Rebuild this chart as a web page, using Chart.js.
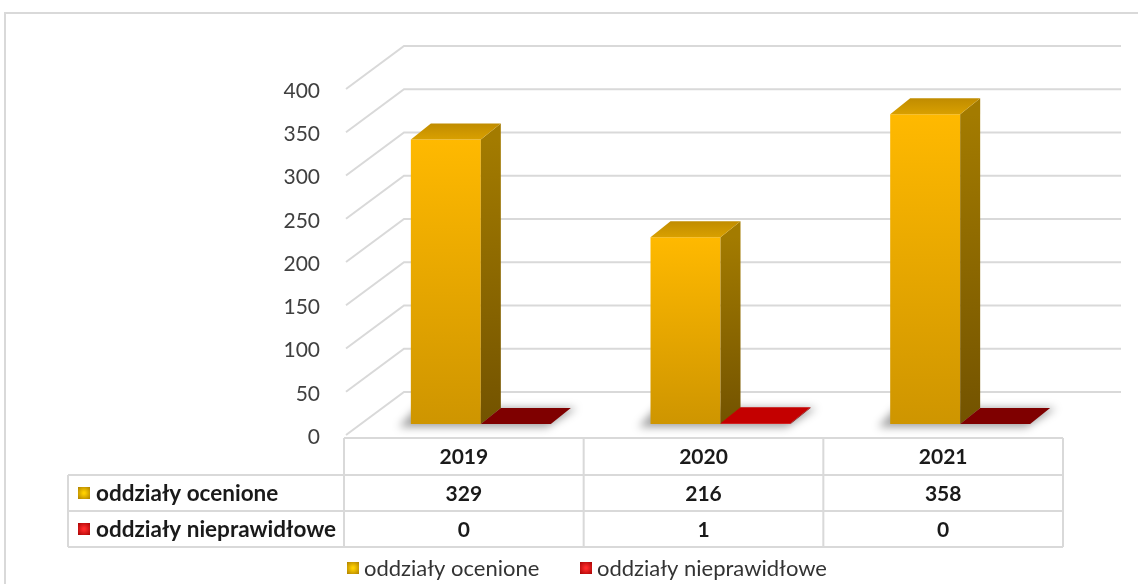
<!DOCTYPE html>
<html><head><meta charset="utf-8">
<script src="https://cdn.jsdelivr.net/npm/chart.js@4.4.1/dist/chart.umd.min.js"></script>
<style>html,body{margin:0;padding:0;background:#fff;overflow:hidden}#wrap{width:1138px;height:584px;position:relative}</style>
</head><body><div id="wrap"><canvas id="c" width="1138" height="584"></canvas></div>
<script>
const categories = ['2019', '2020', '2021'];
const seriesNames = ['oddziały ocenione', 'oddziały nieprawidłowe'];
const assessed = [329, 216, 358];
const irregular = [0, 1, 0];
const yMin = 0, yMax = 400, yStep = 50;

const FONT = 'Lato, "Open Sans", sans-serif';
const DEPTH_X = 20, DEPTH_Y = -16;      // bar depth
const PLANE_FRONT = [-15, 11];          // bar plane -> floor front
const PLANE_BACK = [43, -32];           // bar plane -> back wall
const GRID = '#d9d9d9';

function goldFront(chart, v) {
  const ys = chart.scales.y;
  if (!ys || !chart.chartArea) return '#E0A400';
  const top = ys.getPixelForValue(v), base = ys.getPixelForValue(0);
  const g = chart.ctx.createLinearGradient(0, top, 0, base + 1);
  g.addColorStop(0, '#FFB900');
  g.addColorStop(1, '#CE9500');
  return g;
}

function poly(ctx, pts, fill) {
  ctx.beginPath();
  ctx.moveTo(pts[0][0], pts[0][1]);
  for (let i = 1; i < pts.length; i++) ctx.lineTo(pts[i][0], pts[i][1]);
  ctx.closePath();
  ctx.fillStyle = fill;
  ctx.fill();
}

function marker(ctx, x, y, s, light, dark) {
  const g = ctx.createRadialGradient(x + s / 2, y + s / 2, 1, x + s / 2, y + s / 2, s * 0.75);
  g.addColorStop(0, light);
  g.addColorStop(1, dark);
  ctx.fillStyle = g;
  ctx.fillRect(x, y, s, s);
}

const threeD = {
  id: 'threeD',
  beforeDraw(chart) {
    const ctx = chart.ctx;
    ctx.save();
    ctx.fillStyle = '#fff';
    ctx.fillRect(0, 0, chart.width, chart.height);
    ctx.strokeStyle = '#d9d9d9';
    ctx.lineWidth = 2;
    ctx.strokeRect(5, 13, 1300, 800);
    ctx.restore();
  },
  beforeDatasetsDraw(chart) {
    const ctx = chart.ctx, ys = chart.scales.y, ca = chart.chartArea;
    ctx.save();
    ctx.strokeStyle = GRID;
    ctx.lineWidth = 2;
    for (let v = yMin; v <= yMax; v += yStep) {
      const y = ys.getPixelForValue(v);
      ctx.beginPath();
      ctx.moveTo(ca.left + PLANE_FRONT[0], y + PLANE_FRONT[1]);
      ctx.lineTo(ca.left + PLANE_BACK[0], y + PLANE_BACK[1]);
      ctx.lineTo(ca.right + PLANE_BACK[0] - 2, y + PLANE_BACK[1]);
      ctx.stroke();
    }
    // shadows
    const m0 = chart.getDatasetMeta(0), m1 = chart.getDatasetMeta(1);
    ctx.filter = 'blur(4px)';
    m0.data.forEach((el, i) => {
      const a = el.getProps(['x', 'y', 'base', 'width'], true);
      const b = m1.data[i].getProps(['x', 'y', 'base', 'width'], true);
      const gl = a.x - a.width / 2, gr = b.x + b.width / 2, base = a.base;
      poly(ctx, [[gl - 12, base + 3], [gr - 4, base + 3], [gr + DEPTH_X + 6, base + DEPTH_Y], [gl + DEPTH_X - 14, base + DEPTH_Y]], 'rgba(0,0,0,0.38)');
    });
    ctx.filter = 'none';
    ctx.restore();
  },
  afterDatasetsDraw(chart) {
    const ctx = chart.ctx;
    ctx.save();
    chart.data.datasets.forEach((ds, di) => {
      const meta = chart.getDatasetMeta(di);
      meta.data.forEach((el, i) => {
        const p = el.getProps(['x', 'y', 'base', 'width'], true);
        const x0 = p.x - p.width / 2, x1 = p.x + p.width / 2;
        let topCol, sideCol;
        if (di === 0) {
          const g = ctx.createLinearGradient(0, p.y + DEPTH_Y, 0, p.y);
          g.addColorStop(0, '#C08C00');
          g.addColorStop(1, '#D9A000');
          topCol = g;
          const s = ctx.createLinearGradient(0, p.y, 0, p.base);
          s.addColorStop(0, '#A37B00');
          s.addColorStop(1, '#735300');
          sideCol = s;
        } else {
          topCol = ds.data[i] > 0 ? '#C40000' : '#7F0000';
          sideCol = '#800000';
        }
        poly(ctx, [[x1, p.y], [x1 + DEPTH_X, p.y + DEPTH_Y], [x1 + DEPTH_X, p.base + DEPTH_Y], [x1, p.base]], sideCol);
        poly(ctx, [[x0, p.y], [x1, p.y], [x1 + DEPTH_X, p.y + DEPTH_Y], [x0 + DEPTH_X, p.y + DEPTH_Y]], topCol);
      });
    });
    ctx.restore();
  },
  afterDraw(chart) {
    const ctx = chart.ctx, ca = chart.chartArea;
    const colW = (ca.right - ca.left) / categories.length;
    const tableLeft = ca.left - 17;
    const labelLeft = 68;
    const rows = [438, 475, 511, 547];
    const cols = [];
    for (let i = 0; i <= categories.length; i++) cols.push(tableLeft + i * colW);
    ctx.save();
    ctx.strokeStyle = GRID;
    ctx.lineWidth = 2;
    ctx.beginPath();
    ctx.moveTo(cols[0], rows[0]); ctx.lineTo(cols[cols.length - 1], rows[0]);
    for (let r = 1; r < rows.length; r++) { ctx.moveTo(labelLeft, rows[r]); ctx.lineTo(cols[cols.length - 1], rows[r]); }
    ctx.moveTo(labelLeft, rows[1]); ctx.lineTo(labelLeft, rows[3]);
    cols.forEach(c => { ctx.moveTo(c, rows[0]); ctx.lineTo(c, rows[3]); });
    ctx.stroke();

    ctx.fillStyle = '#1a1a1a';
    ctx.font = 'bold 21px ' + FONT;
    ctx.textAlign = 'center';
    ctx.textBaseline = 'middle';
    categories.forEach((c, i) => {
      const cx = (cols[i] + cols[i + 1]) / 2;
      ctx.fillText(c, cx, (rows[0] + rows[1]) / 2 + 1);
      ctx.fillText(String(assessed[i]), cx, (rows[1] + rows[2]) / 2 + 1);
      ctx.fillText(String(irregular[i]), cx, (rows[2] + rows[3]) / 2 + 1);
    });
    ctx.textAlign = 'left';
    ctx.font = 'bold 22.5px ' + FONT;
    const markers = [['#FFD000', '#A87A00'], ['#FF2A2A', '#A00000']];
    seriesNames.forEach((n, i) => {
      const cy = (rows[i + 1] + rows[i + 2]) / 2;
      marker(ctx, 78, cy - 6, 12, markers[i][0], markers[i][1]);
      ctx.fillStyle = '#1a1a1a';
      ctx.fillText(n, 96, cy + 1);
    });
    ctx.font = '22px ' + FONT;
    const lx = [347, 580], ly = 568;
    seriesNames.forEach((n, i) => {
      marker(ctx, lx[i], ly - 6, 12, markers[i][0], markers[i][1]);
      ctx.fillStyle = '#333333';
      ctx.fillText(n, lx[i] + 17, ly + 1);
    });
    ctx.restore();
  }
};

const L = 361, R = 1080, T = 78, B = 424;

new Chart(document.getElementById('c'), {
  type: 'bar',
  data: {
    labels: categories,
    datasets: [
      { label: seriesNames[0], data: assessed, backgroundColor: ctx => goldFront(ctx.chart, ctx.raw), borderWidth: 0 },
      { label: seriesNames[1], data: irregular, backgroundColor: '#E00000', borderWidth: 0 }
    ]
  },
  options: {
    responsive: false,
    animation: false,
    devicePixelRatio: 1,
    layout: { padding: { left: 0, right: 1138 - R, top: T, bottom: 584 - B } },
    datasets: { bar: { categoryPercentage: 0.584, barPercentage: 1 } },
    plugins: { legend: { display: false }, tooltip: { enabled: false } },
    scales: {
      x: { display: false },
      y: {
        min: yMin, max: yMax,
        ticks: { stepSize: yStep, padding: 41, labelOffset: 13, color: '#404040', font: { family: FONT, size: 21 } },
        grid: { display: false, drawTicks: false },
        border: { display: false },
        afterFit: s => { s.width = L; }
      }
    }
  },
  plugins: [threeD]
});
</script></body></html>
